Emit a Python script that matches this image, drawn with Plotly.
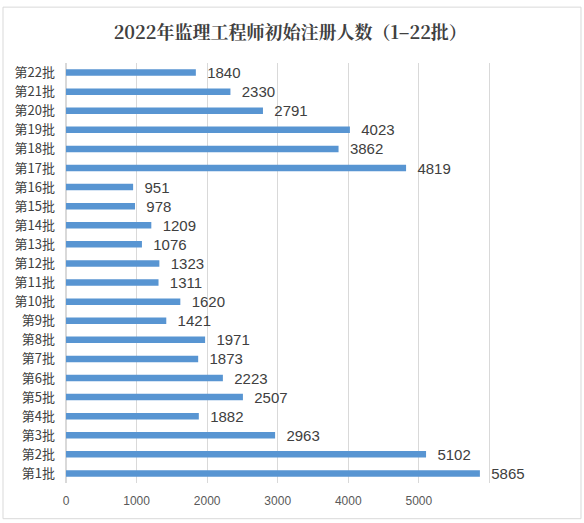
import plotly.graph_objects as go

batches = [f"第{i}批" for i in range(1, 23)]
counts = [5865, 5102, 2963, 1882, 2507, 2223, 1873, 1971, 1421, 1620, 1311,
          1323, 1076, 1209, 978, 951, 4819, 3862, 4023, 2791, 2330, 1840]
tick_vals = [0, 1000, 2000, 3000, 4000, 5000, 6000, 7000]
tick_text = ["0", "1000", "2000", "3000", "4000", "5000", "", ""]

fig = go.Figure()
fig.add_trace(go.Bar(
    y=batches,
    x=counts,
    orientation="h",
    width=0.34,
    marker=dict(color="#5895d2", line=dict(width=0)),
    texttemplate="  %{x}",
    textposition="outside",
    constraintext="none",
    textfont=dict(size=15, color="#404040", family="Liberation Sans, Arial, sans-serif"),
    cliponaxis=False,
))

fig.update_layout(
    width=584, height=523,
    plot_bgcolor="white",
    paper_bgcolor="white",
    showlegend=False,
    margin=dict(l=66, r=24, t=63, b=40),
    title=dict(
        text="<b>2022年监理工程师初始注册人数（1–22批）</b>",
        x=0.497, xanchor="center", y=0.937, yanchor="middle",
        font=dict(size=18, color="#404040", family="Noto Serif CJK SC, Noto Sans CJK SC, serif"),
    ),
    xaxis=dict(
        range=[0, 7000],
        tickvals=tick_vals, ticktext=tick_text,
        showgrid=True, gridcolor="#d9d9d9", gridwidth=1,
        zeroline=True, zerolinecolor="#d9d9d9",
        tickfont=dict(size=12, color="#595959", family="Liberation Sans, Arial, sans-serif"),
        ticks="", ticklabelstandoff=9, fixedrange=True,
    ),
    yaxis=dict(
        categoryorder="array", categoryarray=batches,
        tickfont=dict(size=13, color="#404040", family="Noto Sans CJK SC, sans-serif"),
        ticks="", ticklabelstandoff=10, showline=False,
    ),
)

fig.add_shape(
    type="rect", xref="paper", yref="paper",
    x0=-0.1275, x1=1.0425, y0=-0.085, y1=1.133,
    line=dict(color="#d9d9d9", width=1),
)

fig.write_html("out.html", config={"displayModeBar": False},
               post_script="document.body.style.margin='0';")
